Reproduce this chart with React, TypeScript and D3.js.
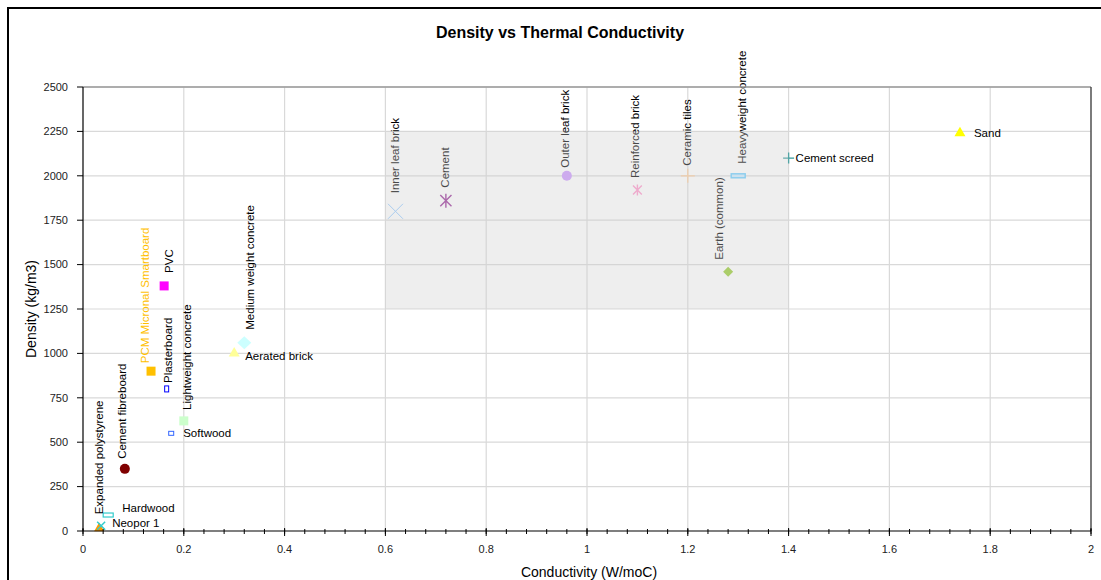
import React from "react";
import * as d3 from "d3";

// ---- data ----
const materials = [
  "Expanded polystyrene", "Neopor 1", "Hardwood", "Cement fibreboard", "Softwood",
  "Lightweight concrete", "Plasterboard", "PCM Micronal Smartboard", "PVC", "Aerated brick",
  "Medium weight concrete", "Inner leaf brick", "Cement", "Outer leaf brick", "Reinforced brick",
  "Ceramic tiles", "Heavyweight concrete", "Earth (common)", "Cement screed", "Sand",
];
const conductivity = [0.032, 0.036, 0.05, 0.083, 0.175, 0.2, 0.166, 0.135, 0.161, 0.3, 0.32, 0.62, 0.72, 0.96, 1.1, 1.2, 1.3, 1.28, 1.4, 1.74];
const density = [15, 30, 90, 350, 550, 620, 800, 900, 1380, 1000, 1060, 1800, 1860, 2000, 1920, 2000, 2000, 1460, 2100, 2240];
const xTicks = [0, 0.2, 0.4, 0.6, 0.8, 1, 1.2, 1.4, 1.6, 1.8, 2];
const yTicks = [0, 250, 500, 750, 1000, 1250, 1500, 1750, 2000, 2250, 2500];
const highlightX = [0.6, 1.4];
const highlightY = [1250, 2250];
const title = "Density vs Thermal Conductivity";
const xTitle = "Conductivity (W/moC)";
const yTitle = "Density (kg/m3)";

// ---- styles ----
type MS = { shape: string; w?: number; h?: number; fill?: string; stroke?: string; sw?: number };
const markerStyle: Record<string, MS> = {
  "Expanded polystyrene": { shape: "tri", w: 10, fill: "#FF9900" },
  "Neopor 1": { shape: "x", w: 8, stroke: "#33CCCC", sw: 1.5 },
  "Hardwood": { shape: "rect", w: 10, h: 4, stroke: "#33CCCC", fill: "#ffffff", sw: 1.2 },
  "Cement fibreboard": { shape: "circle", w: 10, fill: "#800000" },
  "Softwood": { shape: "rect", w: 5, h: 4, stroke: "#3366FF", fill: "#ffffff", sw: 1 },
  "Lightweight concrete": { shape: "square", w: 9, fill: "#CCFFCC" },
  "Plasterboard": { shape: "rect", w: 4, h: 6, stroke: "#0000FF", fill: "#ffffff", sw: 1 },
  "PCM Micronal Smartboard": { shape: "square", w: 9, fill: "#FFC000" },
  "PVC": { shape: "square", w: 9, fill: "#FF00FF" },
  "Aerated brick": { shape: "tri", w: 11, fill: "#FFFF99" },
  "Medium weight concrete": { shape: "diamond", w: 14, h: 13, fill: "#CCFFFF" },
  "Inner leaf brick": { shape: "x", w: 15, stroke: "#99CCFF", sw: 1 },
  "Cement": { shape: "star", w: 14, stroke: "#993399", sw: 1.4 },
  "Outer leaf brick": { shape: "circle", w: 10, fill: "#CC99FF" },
  "Reinforced brick": { shape: "star", w: 11, stroke: "#FF99CC", sw: 1.4 },
  "Ceramic tiles": { shape: "plus", w: 14, stroke: "#FFCC99", sw: 1.2 },
  "Heavyweight concrete": { shape: "rect", w: 14, h: 4, stroke: "#66CCFF", fill: "#CCECFF", sw: 1.4 },
  "Earth (common)": { shape: "diamond", w: 10, h: 10, fill: "#99CC33" },
  "Cement screed": { shape: "plus", w: 11, stroke: "#339999", sw: 1.3 },
  "Sand": { shape: "tri", w: 11, fill: "#FFFF00" },
};

// label placement: v = vertical (dx = centre offset, gap = distance above marker), h = horizontal
const labelPlace: Record<string, { dir: string; dx: number; dy: number; color?: string }> = {
  "Expanded polystyrene": { dir: "v", dx: 0, dy: 14 },
  "Neopor 1": { dir: "h", dx: 11, dy: -3 },
  "Hardwood": { dir: "h", dx: 14, dy: -7 },
  "Cement fibreboard": { dir: "v", dx: -3, dy: 10 },
  "Softwood": { dir: "h", dx: 12, dy: 0 },
  "Lightweight concrete": { dir: "v", dx: 3, dy: 11 },
  "Plasterboard": { dir: "v", dx: 1, dy: 6 },
  "PCM Micronal Smartboard": { dir: "v", dx: -6, dy: 8, color: "#FFC000" },
  "PVC": { dir: "v", dx: 5, dy: 13 },
  "Aerated brick": { dir: "h", dx: 11, dy: 3 },
  "Medium weight concrete": { dir: "v", dx: 6, dy: 13 },
  "Inner leaf brick": { dir: "v", dx: -1, dy: 18 },
  "Cement": { dir: "v", dx: -1, dy: 13 },
  "Outer leaf brick": { dir: "v", dx: -2, dy: 8 },
  "Reinforced brick": { dir: "v", dx: -2, dy: 12 },
  "Ceramic tiles": { dir: "v", dx: -1, dy: 10 },
  "Heavyweight concrete": { dir: "v", dx: 4, dy: 12 },
  "Earth (common)": { dir: "v", dx: -9, dy: 12 },
  "Cement screed": { dir: "h", dx: 7, dy: 0 },
  "Sand": { dir: "h", dx: 14, dy: 0 },
};

const FONT = "'Liberation Sans', Arial, sans-serif";

function Marker({ s }: { s: MS }) {
  const w = s.w || 8;
  const h = s.h || w;
  switch (s.shape) {
    case "tri": {
      const area = (Math.sqrt(3) / 4) * w * w;
      return <path d={d3.symbol(d3.symbolTriangle, area)() || ""} fill={s.fill} />;
    }
    case "circle":
      return <circle r={w / 2} fill={s.fill} />;
    case "square":
      return <rect x={-w / 2} y={-w / 2} width={w} height={w} fill={s.fill} />;
    case "rect":
      return <rect x={-w / 2} y={-h / 2} width={w} height={h} fill={s.fill} stroke={s.stroke} strokeWidth={s.sw} />;
    case "diamond":
      return <path d={`M0,${-h / 2}L${w / 2},0L0,${h / 2}L${-w / 2},0Z`} fill={s.fill} />;
    case "x": {
      const r = w / 2;
      return <path d={`M${-r},${-r}L${r},${r}M${-r},${r}L${r},${-r}`} stroke={s.stroke} strokeWidth={s.sw} fill="none" />;
    }
    case "star": {
      const r = w / 2;
      const k = r * 0.8;
      return <path d={`M${-k},${-k}L${k},${k}M${-k},${k}L${k},${-k}M0,${-r}L0,${r}`} stroke={s.stroke} strokeWidth={s.sw} fill="none" />;
    }
    case "plus": {
      const r = w / 2;
      return <path d={`M${-r},0L${r},0M0,${-r}L0,${r}`} stroke={s.stroke} strokeWidth={s.sw} fill="none" />;
    }
    default:
      return null;
  }
}

export default function App() {
  const W = 1101, H = 580;
  const left = 83, right = 1091, top = 87, bottom = 531;
  const x = d3.scaleLinear().domain([0, 2]).range([left, right]);
  const y = d3.scaleLinear().domain([0, 2500]).range([bottom, top]);
  const minorTicks = d3.range(0, 2.0001, 0.04);

  return (
    <svg width={W} height={H} style={{ position: "absolute", left: 0, top: 0, background: "#fff" }} fontFamily={FONT}>
      <rect x={0} y={0} width={W} height={H} fill="#ffffff" />
      <rect x={8} y={8} width={1200} height={700} fill="none" stroke="#000" strokeWidth={2} />
      <text x={560} y={38} textAnchor="middle" fontSize={16} fontWeight="bold" fill="#000">{title}</text>

      {/* gridlines */}
      {xTicks.slice(1).map((t) => (
        <line key={"gx" + t} x1={x(t)} x2={x(t)} y1={top} y2={bottom} stroke="#d9d9d9" strokeWidth={1.2} />
      ))}
      {yTicks.slice(1).map((t) => (
        <line key={"gy" + t} x1={left} x2={right} y1={y(t)} y2={y(t)} stroke="#d9d9d9" strokeWidth={1.2} />
      ))}

      {/* markers */}
      {materials.map((m, i) => (
        <g key={"m" + m} transform={`translate(${x(conductivity[i])},${y(density[i])})`}>
          <Marker s={markerStyle[m]} />
        </g>
      ))}

      {/* labels */}
      {materials.map((m, i) => {
        const p = labelPlace[m];
        const px = x(conductivity[i]);
        const py = y(density[i]);
        if (p.dir === "v") {
          return (
            <text key={"l" + m} transform={`translate(${px + p.dx},${py - p.dy}) rotate(-90)`} dy="0.35em"
              fontSize={11.5} fill={p.color || "#000"}>{m}</text>
          );
        }
        return (
          <text key={"l" + m} x={px + p.dx} y={py + p.dy} dy="0.35em" fontSize={11.5} fill={p.color || "#000"}>{m}</text>
        );
      })}

      {/* highlight region */}
      <rect x={x(highlightX[0])} y={y(highlightY[1])} width={x(highlightX[1]) - x(highlightX[0])}
        height={y(highlightY[0]) - y(highlightY[1])} fill="#cfcfcf" fillOpacity={0.35} />

      {/* plot border */}
      <line x1={left} x2={right} y1={top} y2={top} stroke="#999" strokeWidth={1.5} />
      <line x1={right} x2={right} y1={top} y2={bottom} stroke="#333" strokeWidth={1.2} />

      {/* axes */}
      <line x1={left} x2={left} y1={top} y2={bottom} stroke="#000" strokeWidth={1.2} />
      <line x1={left} x2={right} y1={bottom} y2={bottom} stroke="#000" strokeWidth={1.2} />
      {yTicks.map((t) => (
        <g key={"yt" + t}>
          <line x1={left - 6} x2={left} y1={y(t)} y2={y(t)} stroke="#000" />
          <text x={68} y={y(t)} dy="0.35em" textAnchor="end" fontSize={11} fill="#222">{t}</text>
        </g>
      ))}
      {minorTicks.map((t) => (
        <line key={"mt" + t} x1={x(t)} x2={x(t)} y1={bottom - 2} y2={bottom + 3} stroke="#000" />
      ))}
      {xTicks.map((t) => (
        <g key={"xt" + t}>
          <line x1={x(t)} x2={x(t)} y1={bottom - 3} y2={bottom + 5} stroke="#000" />
          <text x={x(t)} y={549} dy="0.35em" textAnchor="middle" fontSize={11} fill="#222">{String(t)}</text>
        </g>
      ))}

      <text x={589} y={577} textAnchor="middle" fontSize={14} fill="#000">{xTitle}</text>
      <text transform={`translate(36,309) rotate(-90)`} textAnchor="middle" fontSize={14} fill="#000">{yTitle}</text>
    </svg>
  );
}
